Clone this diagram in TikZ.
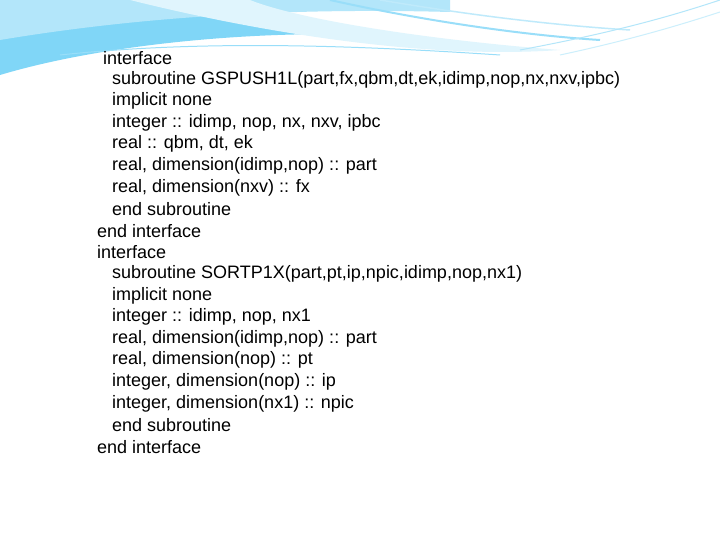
\documentclass[tikz,border=0pt]{standalone}
\usepackage{fontspec}
\setmainfont{Liberation Sans}
\begin{document}
\begin{tikzpicture}[x=1bp,y=-1bp,
  code/.style={anchor=west,inner sep=0pt,font=\fontsize{18bp}{20bp}\selectfont}]
\useasboundingbox (0,0) rectangle (720,540);
\fill[white] (0,0) rectangle (720,540);
% decorative swooshes
\fill[cyan!50!white] (0,0) -- (0,75) .. controls (100,45) and (250,30) .. (380,35) .. controls (300,20) and (150,12) .. (0,0) -- cycle;
\fill[cyan!30!white] (0,0) -- (0,40) .. controls (150,15) and (300,8) .. (450,12) -- (450,0) -- cycle;
\fill[cyan!12!white] (130,0) .. controls (250,30) and (420,60) .. (560,50) .. controls (430,40) and (300,20) .. (250,0) -- cycle;
\draw[cyan!40,line width=2pt] (330,0) .. controls (420,20) and (520,35) .. (600,40);
\draw[cyan!25,line width=1.5pt] (380,0) .. controls (470,15) and (550,25) .. (630,30);
\draw[cyan!30,line width=1pt] (520,50) .. controls (600,35) and (660,20) .. (720,0);
\draw[cyan!20,line width=1pt] (560,55) .. controls (630,40) and (680,25) .. (720,12);
\draw[cyan!40,line width=1pt] (60,55) .. controls (200,40) and (350,45) .. (500,55);
\node[code] (l1) at (103,58) {interface};
\node[code] (l2) at (112,80) {subroutine GSPUSH1L(part,fx,qbm,dt,ek,idimp,nop,nx,nxv,ipbc)};
\node[code] (l3) at (112,101) {implicit none};
\node[code] (l4) at (112,123) {integer :: idimp, nop, nx, nxv, ipbc};
\node[code] (l5) at (112,144) {real :: qbm, dt, ek};
\node[code] (l6) at (112,166) {real, dimension(idimp,nop) :: part};
\node[code] (l7) at (112,188) {real, dimension(nxv) :: fx};
\node[code] (l8) at (112,209) {end subroutine};
\node[code] (l9) at (97,231) {end interface};
\node[code] (l10) at (97,252) {interface};
\node[code] (l11) at (112,274) {subroutine SORTP1X(part,pt,ip,npic,idimp,nop,nx1)};
\node[code] (l12) at (112,296) {implicit none};
\node[code] (l13) at (112,317) {integer :: idimp, nop, nx1};
\node[code] (l14) at (112,339) {real, dimension(idimp,nop) :: part};
\node[code] (l15) at (112,360) {real, dimension(nop) :: pt};
\node[code] (l16) at (112,382) {integer, dimension(nop) :: ip};
\node[code] (l17) at (112,404) {integer, dimension(nx1) :: npic};
\node[code] (l18) at (112,425) {end subroutine};
\node[code] (l19) at (97,447) {end interface};
\end{tikzpicture}
\end{document}
